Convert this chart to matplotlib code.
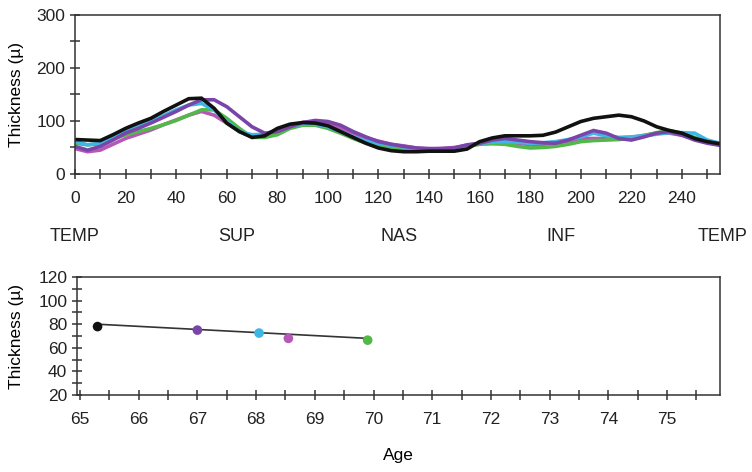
import numpy as np
import matplotlib.pyplot as plt
from matplotlib.ticker import MultipleLocator

# TSNIT profile: position along the circle (0..255) sampled every 5
pos = list(range(0, 256, 5))

black = [65, 64, 63, 74, 86, 96, 105, 118, 130, 142, 143, 124, 96, 80, 69, 72, 86, 94, 97, 96,
         91, 80, 69, 58, 49, 44, 42, 42, 43, 43, 43, 47, 61, 68, 72, 72, 72, 73, 79, 89,
         99, 105, 108, 111, 108, 100, 89, 82, 77, 67, 61, 57]
purple = [52, 45, 52, 64, 77, 86, 96, 107, 118, 130, 140, 140, 127, 108, 89, 77, 80, 89, 97, 101,
          99, 92, 80, 70, 61, 56, 52, 49, 48, 48, 49, 55, 58, 64, 67, 64, 61, 59, 58, 64,
          73, 82, 77, 67, 64, 70, 77, 80, 73, 64, 58, 54]
cyan = [61, 55, 58, 69, 80, 90, 99, 110, 121, 130, 133, 121, 99, 80, 74, 75, 83, 91, 94, 94,
        89, 80, 70, 62, 58, 54, 51, 47, 45, 46, 47, 52, 58, 60, 61, 60, 58, 59, 61, 65,
        70, 77, 72, 69, 70, 72, 75, 78, 78, 77, 64, 58]
magenta = [48, 42, 45, 56, 67, 75, 83, 93, 102, 111, 118, 111, 96, 80, 70, 72, 80, 89, 97, 99,
           96, 86, 77, 68, 62, 56, 53, 49, 47, 48, 50, 54, 58, 60, 61, 58, 55, 56, 58, 62,
           67, 67, 67, 68, 69, 73, 77, 77, 73, 67, 61, 58]
green = [58, 55, 57, 66, 74, 80, 86, 93, 101, 111, 121, 121, 105, 86, 69, 69, 74, 86, 92, 92,
         86, 77, 67, 58, 52, 49, 47, 45, 44, 45, 47, 52, 56, 57, 56, 52, 49, 50, 52, 56,
         61, 63, 64, 65, 67, 72, 78, 82, 77, 69, 61, 57]

sectors = ['TEMP', 'SUP', 'NAS', 'INF', 'TEMP']
sector_pos = [0, 64, 128, 192, 256]

# average thickness per exam vs age
ages = [65.3, 67.0, 68.05, 68.55, 69.9]
avg_thk = [78, 75, 72.5, 68, 66.5]
trend_age = [65.3, 69.9]
trend_thk = [80, 68]

col_black = '#111111'
col_purple = '#7a45a8'
col_cyan = '#3db7e4'
col_magenta = '#b659b6'
col_green = '#52b848'
point_colors = [col_black, col_purple, col_cyan, col_magenta, col_green]

plt.rcParams['font.family'] = ['Liberation Sans', 'DejaVu Sans']
plt.rcParams['font.size'] = 12

fig = plt.figure(figsize=(7.52, 4.72), dpi=100)
ax1 = fig.add_axes([0.0997, 0.6314, 0.8577, 0.3369])
ax2 = fig.add_axes([0.1024, 0.1631, 0.855, 0.25])

for ax in (ax1, ax2):
    for s in ax.spines.values():
        s.set_color('#333333')
        s.set_linewidth(1.1)
    ax.tick_params(which='both', direction='inout', length=7, width=1.1,
                   color='#333333', labelcolor='#222222', labelsize=12.5)
    ax.tick_params(axis='x', which='both', pad=9)

# --- top: thickness profile
for y, c in [(magenta, col_magenta), (green, col_green), (cyan, col_cyan),
             (purple, col_purple), (black, col_black)]:
    ax1.plot(pos, y, color=c, lw=2.6, solid_joinstyle='miter')

ax1.set_xlim(0, 255)
ax1.set_ylim(0, 300)
ax1.xaxis.set_major_locator(MultipleLocator(20))
ax1.xaxis.set_minor_locator(MultipleLocator(10))
ax1.yaxis.set_major_locator(MultipleLocator(100))
ax1.yaxis.set_minor_locator(MultipleLocator(50))
ax1.set_xticks(range(0, 241, 20))
ax1.set_ylabel('Thickness (\u00b5)', fontsize=12.5, labelpad=9)

for name, p in zip(sectors, sector_pos):
    ax1.text(p, -0.395, name, transform=ax1.get_xaxis_transform(), ha='center', va='center',
             fontsize=13, color='#222222')

# --- bottom: average thickness vs age
ax2.plot(trend_age, trend_thk, color='#333333', lw=1.2, zorder=2)
ax2.scatter(ages, avg_thk, c=point_colors, s=48, zorder=3, edgecolors='none')
ax2.set_xlim(64.95, 75.9)
ax2.set_ylim(20, 120)
ax2.xaxis.set_major_locator(MultipleLocator(1))
ax2.xaxis.set_minor_locator(MultipleLocator(0.5))
ax2.yaxis.set_major_locator(MultipleLocator(20))
ax2.yaxis.set_minor_locator(MultipleLocator(10))
ax2.set_ylabel('Thickness (\u00b5)', fontsize=12.5, labelpad=10)
ax2.set_xlabel('Age', fontsize=12.5, labelpad=15)

fig.savefig('out.png', dpi=100)
